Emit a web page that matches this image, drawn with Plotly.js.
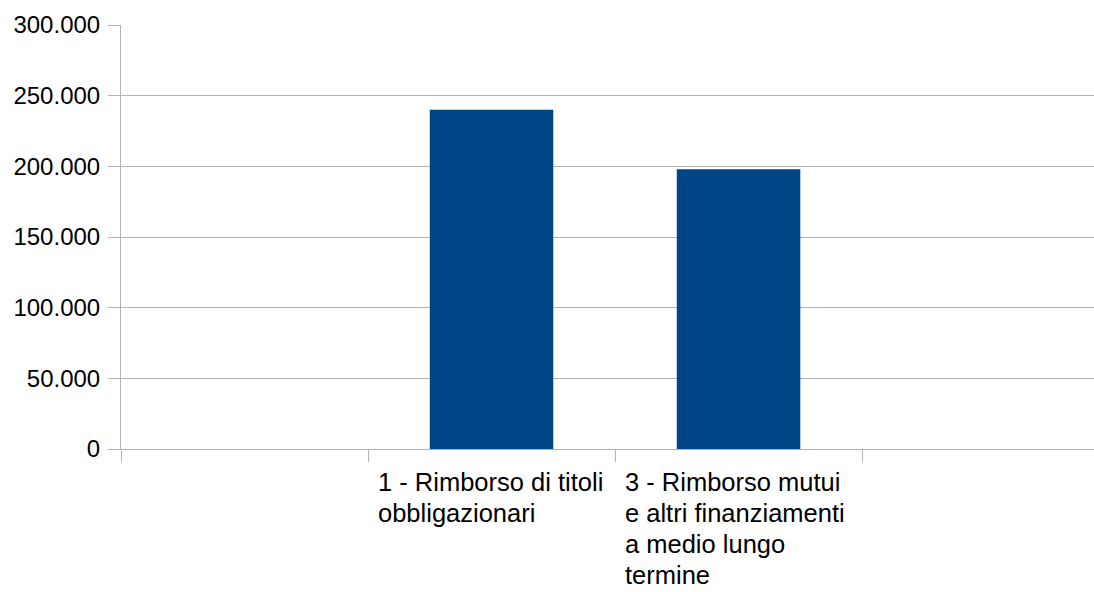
<!DOCTYPE html>
<html>
<head>
<meta charset="utf-8">
<script src="https://cdn.plot.ly/plotly-3.0.1.min.js"></script>
<style>html,body{margin:0;padding:0;background:#fff;}#chart{width:1094px;height:592px;}</style>
</head>
<body>
<div id="chart"></div>
<script>
// Data
const categories = ["", "1 - Rimborso di titoli<br>obbligazionari", "3 - Rimborso mutui<br>e altri finanziamenti<br>a medio lungo<br>termine", ""];
const values = [null, 240000, 198000, null];
const yTickValues = [0, 50000, 100000, 150000, 200000, 250000, 300000];

const xIdx = categories.map((_, i) => i);
const FONT = "Liberation Sans, Arial, sans-serif";
const GRID = "#b3b3b3";
const LABEL_SIZE = 25.5;
const LINE_STEP = 31;

const trace = {
  type: "bar",
  x: xIdx,
  y: values,
  width: 0.5,
  marker: { color: "#004586", line: { width: 0 } },
  hoverinfo: "skip"
};

const annotations = [];
categories.forEach((c, i) => {
  if (!c) return;
  c.split("<br>").forEach((line, k) => {
    annotations.push({
      x: i, y: 0, xref: "x", yref: "y",
      text: line,
      showarrow: false,
      xanchor: "left", yanchor: "top",
      align: "left",
      xshift: -116, yshift: -17 - LINE_STEP * k,
      font: { family: FONT, size: LABEL_SIZE, color: "#000" }
    });
  });
});

const layout = {
  width: 1094, height: 592,
  margin: { l: 121, r: 0, t: 25, b: 143, pad: 0 },
  paper_bgcolor: "#fff", plot_bgcolor: "#fff",
  showlegend: false,
  separators: ",.",
  font: { family: FONT, size: 24, color: "#000" },
  xaxis: {
    type: "linear",
    range: [-0.5, 3.439],
    tickmode: "array",
    tickvals: [-0.5, 0.5, 1.5, 2.5],
    showticklabels: false,
    ticks: "outside", ticklen: 12, tickwidth: 1, tickcolor: GRID,
    showgrid: false, zeroline: false,
    showline: true, linecolor: GRID, linewidth: 1,
    fixedrange: true
  },
  yaxis: {
    range: [0, 300000],
    tickmode: "array",
    tickvals: yTickValues,
    tickformat: ",d",
    ticks: "outside", ticklen: 12, tickwidth: 1, tickcolor: GRID,
    ticklabelstandoff: 3,
    showgrid: true, gridcolor: GRID, gridwidth: 1,
    zeroline: false,
    showline: true, linecolor: GRID, linewidth: 1,
    tickfont: { family: FONT, size: 24, color: "#000" },
    fixedrange: true
  },
  annotations: annotations
};

Plotly.newPlot("chart", [trace], layout, { displayModeBar: false, staticPlot: true });
</script>
</body>
</html>
